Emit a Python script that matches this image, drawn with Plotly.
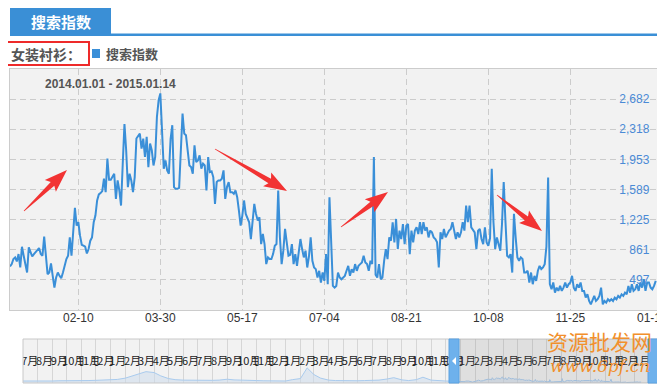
import math
import pandas as pd
import plotly.graph_objects as go

# ---------------- data ----------------
start_date = "2014-01-01"
search_index = [
    660, 688, 750, 769, 720, 809, 647, 898, 789, 667,
    586, 890, 830, 780, 809, 830, 858, 882, 809, 789,
    1020, 728, 566, 586, 696, 546, 404, 526, 586, 546,
    517, 586, 688, 749, 789, 1011, 789, 1093, 1368, 1153,
    1194, 1032, 922, 910, 898, 817, 870, 971, 1011, 1194,
    1275, 1457, 1530, 1546, 1570, 1720, 1558, 1963, 1708, 1708,
    1740, 1781, 1477, 1700, 1578, 1396, 1902, 2380, 2064, 1619,
    1781, 1700, 1558, 1740, 2206, 2246,
    2266, 2084, 2206, 1983, 2226, 1861, 2145, 2064, 1881, 1983,
    2469, 2671, 2752, 2300, 1841, 1942, 1821, 1781, 2200, 2368,
    1619, 1598, 1598, 1610, 2145, 2509, 2266, 2246, 2064, 1881,
    1861, 1781, 2125, 1922, 1942, 2003, 1841, 1902, 1881, 1578,
    1983, 1801, 1810, 1740, 1416, 1680, 1700, 1700, 1720, 1821,
    1477, 1619, 1680, 1558, 1558, 1538, 1578, 1497, 1335, 1153,
    1275, 1457, 1295, 1254, 1194, 991, 1173, 1416, 1295, 1214,
    1254, 930, 1052, 930, 688,
    769, 750, 750, 809, 910, 930, 1578, 1011, 688, 850,
    1113, 951, 789, 800, 930, 688, 809, 667, 800, 991,
    870, 769, 850, 647, 780, 1011, 728, 647, 627, 526,
    607, 465, 586, 485, 809, 445, 1497, 971, 424, 404,
    424, 586, 526, 505, 526, 546, 607, 667, 546, 627,
    586, 688, 607, 667, 688, 708, 789, 708, 688, 607,
    728, 688, 1983, 560, 526, 688, 505, 526, 728, 870,
    749, 1011, 971, 1194, 951, 1234, 870, 1093,
    991, 1173, 930, 1153, 1173, 809, 1093, 951, 1093, 1133,
    1052, 1194, 1052, 1194, 1093, 1133, 1011, 1093, 1072, 1011,
    991, 951, 647, 1072, 991, 1113, 1011, 1052, 1093, 1113,
    1194, 1093, 991, 1072, 1011, 1072, 1194, 1093, 1396, 1194,
    1396, 1133, 1093, 1072, 870, 1093, 1113, 991, 930, 1133,
    951, 910, 1000, 1841, 1194, 870, 1011, 910, 850, 1173,
    1680, 1214, 789, 769, 809, 586, 1295, 1011, 769, 728,
    769, 749, 586, 586, 607, 465,
    586, 445, 546, 485, 607, 667, 627, 647, 688, 900,
    1735, 445, 384, 465, 343, 404, 364, 424, 364, 404,
    465, 404, 445, 465, 546, 404, 364, 445, 404, 465,
    364, 364, 283, 323, 242, 202, 263, 303, 242, 263,
    303, 404, 202, 242, 222, 263, 242, 263, 242, 283,
    263, 303, 283, 323, 303, 343, 323, 424, 343, 445,
    364, 384, 445, 364, 465, 404, 505, 364, 465, 465,
    404, 384, 424, 485,
]
dates = pd.date_range(start_date, periods=len(search_index), freq="D")

x_tick_vals = ["2014-02-10", "2014-03-30", "2014-05-17", "2014-07-04",
               "2014-08-21", "2014-10-08", "2014-11-25", "2015-01-12"]
x_tick_text = ["02-10", "03-30", "05-17", "07-04", "08-21", "10-08", "11-25", "01-12"]
y_tick_vals = [497, 861, 1225, 1589, 1953, 2318, 2682]
y_tick_text = ["497", "861", "1,225", "1,589", "1,953", "2,318", "2,682"]

# navigator history (semi-monthly, 2011-07 .. 2013-12)
nav_hist_values = [
    900, 850, 900, 950, 900, 1000, 950, 1000, 1050, 1100, 1200, 1300,
    1400, 1600, 2200, 3200, 4300, 5100, 4700, 3200, 2000, 1500, 1300, 1200,
    1100, 1100, 1200, 1300, 1700, 1400, 1200, 1100, 1100, 1000, 1000, 1100,
    900, 1500, 2000, 6800, 3800, 2200, 1300, 1100, 1000, 1000, 1000, 1100,
    1100, 1300, 1800, 2400, 1400, 1100, 1500, 2600, 1300, 1000, 900, 850,
]
nav_hist_dates = pd.date_range("2011-07-01", periods=len(nav_hist_values), freq="SMS")
nav_months = pd.date_range("2011-07-01", "2015-02-01", freq="MS")
nav_month_labels = [f"{d.month}月" for d in nav_months]

# ---------------- geometry helpers ----------------
# The page body has an 8px margin, so the figure sits at (8, 8) in the window.
OFF = 8
W, H = 665 - OFF, 387 - OFF
L, R, T, B = 10 - OFF, 5, 69 - OFF, 4
PW, PH = W - L - R, H - T - B


def px(X):  # window pixel -> paper x
    return (X - OFF - L) / PW


def py(Y):  # window pixel -> paper y
    return (H - B - (Y - OFF)) / PH


main_dom = [py(310), 1.0]
nav_dom = [0.0, py(339)]
nav_yrange = [0, 19800]

BLUE = "#3a8fd8"
FONT = "Liberation Sans, Arial, sans-serif"
CJK = "Noto Sans CJK SC, sans-serif"

fig = go.Figure()

# navigator series
fig.add_trace(go.Scatter(
    x=list(nav_hist_dates) + list(dates),
    y=nav_hist_values + search_index,
    xaxis="x2", yaxis="y2", mode="lines",
    line=dict(color="#a9cbee", width=1),
    fill="tozeroy", fillcolor="rgba(205,220,236,0.55)",
    hoverinfo="skip", showlegend=False,
))
# navigator month labels
label_y = nav_yrange[0] + (nav_yrange[1] - nav_yrange[0]) * (383 - 362) / 44
fig.add_trace(go.Scatter(
    x=[d + pd.Timedelta(days=15) for d in nav_months],
    y=[label_y] * len(nav_months),
    xaxis="x2", yaxis="y2", mode="text",
    text=nav_month_labels,
    textfont=dict(family=CJK, size=11, color="#222222"),
    hoverinfo="skip", showlegend=False, cliponaxis=True,
))

# main series
fig.add_trace(go.Scatter(
    x=dates, y=search_index, mode="lines",
    line=dict(color=BLUE, width=2),
    name="搜索指数", showlegend=False,
))

shapes = []
annotations = []

# header tab
shapes.append(dict(type="rect", xref="paper", yref="paper",
                   x0=px(10), x1=px(111), y0=py(35), y1=py(8),
                   fillcolor="#3a8fd6", line=dict(width=0)))
shapes.append(dict(type="rect", xref="paper", yref="paper",
                   x0=px(10), x1=px(665), y0=py(36), y1=py(33.5),
                   fillcolor="#3a8fd6", line=dict(width=0)))
annotations.append(dict(xref="paper", yref="paper", x=px(61), y=py(22),
                        text="<b>搜索指数</b>", showarrow=False,
                        font=dict(family=CJK, size=15, color="white"),
                        xanchor="center", yanchor="middle"))

# subject label with red box
annotations.append(dict(xref="paper", yref="paper", x=px(9), y=py(54),
                        text="<b>女装衬衫：</b>", showarrow=False,
                        font=dict(family=CJK, size=14, color="#555555"),
                        xanchor="left", yanchor="middle"))
shapes.append(dict(type="rect", xref="paper", yref="paper",
                   x0=px(7), x1=px(89), y0=py(65), y1=py(42),
                   line=dict(color="#ee2a2a", width=2)))
# legend
shapes.append(dict(type="rect", xref="paper", yref="paper",
                   x0=px(92), x1=px(100), y0=py(58), y1=py(49),
                   fillcolor=BLUE, line=dict(width=0)))
annotations.append(dict(xref="paper", yref="paper", x=px(104), y=py(54),
                        text="<b>搜索指数</b>", showarrow=False,
                        font=dict(family=CJK, size=13, color="#555555"),
                        xanchor="left", yanchor="middle"))

# date range title
annotations.append(dict(xref="paper", yref="paper", x=px(43), y=py(84),
                        text="<b>2014.01.01 - 2015.01.14</b>", showarrow=False,
                        font=dict(family=FONT, size=12, color="#555555"),
                        xanchor="left", yanchor="middle"))

# last x tick label (partly cut by the window edge)
annotations.append(dict(xref="x", yref="paper", x=x_tick_vals[-1], y=py(318),
                        text=x_tick_text[-1], showarrow=False,
                        font=dict(family=FONT, size=12, color="#333333"),
                        xanchor="center", yanchor="middle"))


# red arrows
def arrow(x0, y0, x1, y1, head_len=20, head_half=8, shaft_half=2.6):
    dx, dy = x1 - x0, y1 - y0
    Ln = math.hypot(dx, dy)
    ux, uy = dx / Ln, dy / Ln
    nx, ny = -uy, ux
    bx, by = x1 - ux * head_len, y1 - uy * head_len
    pts = [(x0 + nx * 0.4, y0 + ny * 0.4),
           (bx + nx * shaft_half, by + ny * shaft_half),
           (bx - ux * 3 + nx * head_half, by - uy * 3 + ny * head_half),
           (x1, y1),
           (bx - ux * 3 - nx * head_half, by - uy * 3 - ny * head_half),
           (bx - nx * shaft_half, by - ny * shaft_half),
           (x0 - nx * 0.4, y0 - ny * 0.4)]
    path = "M " + " L ".join(f"{px(a):.5f},{py(b):.5f}" for a, b in pts) + " Z"
    return dict(type="path", xref="paper", yref="paper", path=path,
                fillcolor="#f23333", line=dict(width=0))


for a in [(24, 211, 67, 170), (215, 149, 287, 191),
          (341, 227, 388, 192), (497, 195, 542, 231)]:
    shapes.append(arrow(*a))

# navigator frame, selection and handles
shapes.append(dict(type="rect", xref="paper", yref="paper",
                   x0=px(23), x1=px(660), y0=py(383), y1=py(339),
                   line=dict(color="#c8c8c8", width=1)))
shapes.append(dict(type="rect", xref="paper", yref="paper",
                   x0=px(449), x1=px(660), y0=py(383), y1=py(339),
                   fillcolor="rgba(110,110,110,0.14)", line=dict(width=0)))
for hx0, hx1 in [(449, 459), (648, 660)]:
    shapes.append(dict(type="rect", xref="paper", yref="paper",
                       x0=px(hx0), x1=px(hx1), y0=py(383), y1=py(339),
                       fillcolor="#6eb1ec", line=dict(color="#5aa2e2", width=1)))
shapes.append(dict(type="path", xref="paper", yref="paper",
                   path=f"M {px(456)},{py(357)} L {px(456)},{py(365)} L {px(452)},{py(361)} Z",
                   fillcolor="white", line=dict(width=0)))

# watermark
annotations.append(dict(xref="paper", yref="paper", x=px(599), y=py(341),
                        text="资源批发网", showarrow=False,
                        font=dict(family=CJK, size=21, color="#f2902c"),
                        xanchor="center", yanchor="middle"))
annotations.append(dict(xref="paper", yref="paper", x=px(600), y=py(366),
                        text="www.6pf.cn", showarrow=False,
                        font=dict(family="DejaVu Serif", size=17, color="#f2902c",
                                  style="italic"),
                        xanchor="center", yanchor="middle"))

x_end = pd.Timestamp(start_date) + pd.Timedelta(days=PW / (82 / 48))

fig.update_layout(
    width=W, height=H,
    margin=dict(l=L, r=R, t=T, b=B, pad=0),
    paper_bgcolor="white", plot_bgcolor="#f2f2f2",
    showlegend=False,
    shapes=shapes, annotations=annotations,
    xaxis=dict(
        domain=[0, 1], anchor="y", type="date",
        range=[pd.Timestamp(start_date), x_end],
        tickmode="array", tickvals=x_tick_vals,
        ticktext=x_tick_text[:-1] + [""],
        showgrid=True, gridcolor="#cccccc", gridwidth=1, griddash="6px,4px",
        showline=True, linecolor="#cccccc", linewidth=1, mirror=True,
        ticks="",
        tickfont=dict(family=FONT, size=12, color="#333333"),
        ticklabelstandoff=-3,
        zeroline=False, fixedrange=True,
    ),
    yaxis=dict(
        domain=main_dom, anchor="x", side="right",
        range=[133, 3047],
        tickmode="array", tickvals=y_tick_vals, ticktext=y_tick_text,
        ticklabelposition="inside", ticklabelstandoff=10,
        showgrid=True, gridcolor="#cccccc", gridwidth=1, griddash="6px,4px",
        showline=True, linecolor="#cccccc", linewidth=1, mirror=True,
        ticks="", tickfont=dict(family=FONT, size=12, color="#4a8ad6"),
        zeroline=False, fixedrange=True,
    ),
    xaxis2=dict(
        domain=[px(23), 1], anchor="y2", type="date",
        range=["2011-07-02", "2015-02-22 12:00"],
        tickmode="array", tickvals=list(nav_months),
        showticklabels=False, ticks="",
        showgrid=True, gridcolor="#d6d6d6", gridwidth=1,
        showline=False, zeroline=False, fixedrange=True,
    ),
    yaxis2=dict(
        domain=nav_dom, anchor="x2", range=nav_yrange,
        showgrid=False, showticklabels=False, ticks="",
        zeroline=False, showline=False, fixedrange=True,
    ),
)

fig.write_html("out.html")
